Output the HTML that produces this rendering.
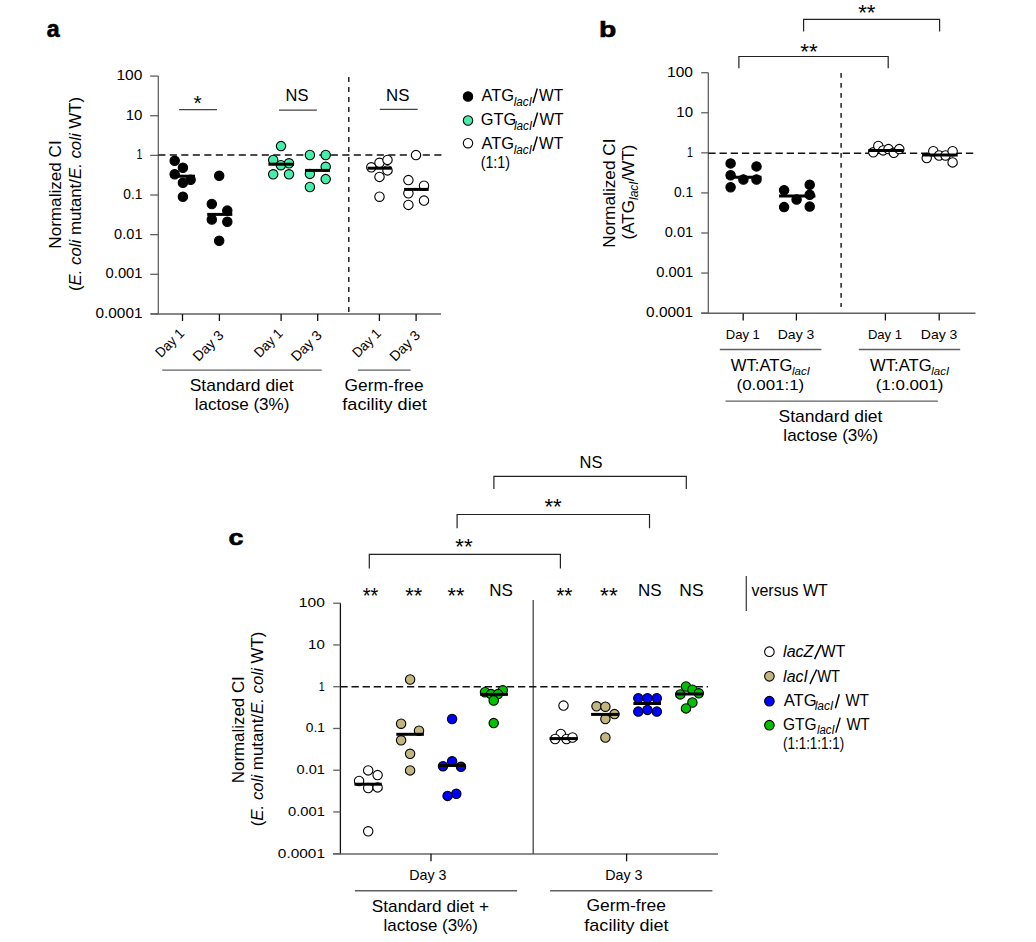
<!DOCTYPE html>
<html><head><meta charset="utf-8"><style>
html,body{margin:0;padding:0;background:#fff;width:1036px;height:942px;overflow:hidden}
svg{display:block;font-family:"Liberation Sans", sans-serif}
text{fill:#000}
</style></head><body>
<svg width="1036" height="942" viewBox="0 0 1036 942">
<rect width="1036" height="942" fill="#fff"/>
<text x="46.81" y="36.7" font-size="23" font-weight="bold" textLength="12.85" lengthAdjust="spacingAndGlyphs" stroke="#000" stroke-width="0.6">a</text>
<line x1="158.3" y1="76.1" x2="158.3" y2="314.54" stroke="#606060" stroke-width="1.3"/>
<line x1="150.2" y1="76.1" x2="158.3" y2="76.1" stroke="#606060" stroke-width="1.3"/>
<text x="116.43" y="80.1" font-size="14" textLength="25.97" lengthAdjust="spacingAndGlyphs">100</text>
<line x1="150.2" y1="115.74" x2="158.3" y2="115.74" stroke="#606060" stroke-width="1.3"/>
<text x="125.67" y="119.74" font-size="14" textLength="16.73" lengthAdjust="spacingAndGlyphs">10</text>
<line x1="150.2" y1="155.38" x2="158.3" y2="155.38" stroke="#606060" stroke-width="1.3"/>
<text x="136.4" y="159.38" font-size="14" textLength="5.92" lengthAdjust="spacingAndGlyphs">1</text>
<line x1="150.2" y1="195.02" x2="158.3" y2="195.02" stroke="#606060" stroke-width="1.3"/>
<text x="123.35" y="199.02" font-size="14" textLength="19.11" lengthAdjust="spacingAndGlyphs">0.1</text>
<line x1="150.2" y1="234.66" x2="158.3" y2="234.66" stroke="#606060" stroke-width="1.3"/>
<text x="114.12" y="238.66" font-size="14" textLength="28.4" lengthAdjust="spacingAndGlyphs">0.01</text>
<line x1="150.2" y1="274.3" x2="158.3" y2="274.3" stroke="#606060" stroke-width="1.3"/>
<text x="105.61" y="278.3" font-size="14" textLength="36.89" lengthAdjust="spacingAndGlyphs">0.001</text>
<line x1="150.2" y1="313.94" x2="158.3" y2="313.94" stroke="#606060" stroke-width="1.3"/>
<text x="95.48" y="317.94" font-size="14" textLength="47.07" lengthAdjust="spacingAndGlyphs">0.0001</text>
<line x1="150.8" y1="313.9" x2="441" y2="313.9" stroke="#606060" stroke-width="1.5"/>
<line x1="182.5" y1="314" x2="182.5" y2="321" stroke="#111" stroke-width="1.3"/>
<line x1="219.4" y1="314" x2="219.4" y2="321" stroke="#111" stroke-width="1.3"/>
<line x1="281.1" y1="314" x2="281.1" y2="321" stroke="#111" stroke-width="1.3"/>
<line x1="317.7" y1="314" x2="317.7" y2="321" stroke="#111" stroke-width="1.3"/>
<line x1="379.4" y1="314" x2="379.4" y2="321" stroke="#111" stroke-width="1.3"/>
<line x1="416.1" y1="314" x2="416.1" y2="321" stroke="#111" stroke-width="1.3"/>
<line x1="158.3" y1="155.1" x2="441.8" y2="155.1" stroke="#111" stroke-width="1.5" stroke-dasharray="7.1 4.4"/>
<line x1="348.8" y1="77.1" x2="348.8" y2="314" stroke="#222" stroke-width="1.5" stroke-dasharray="4.8 5.2"/>
<line x1="179.1" y1="109.6" x2="217" y2="109.6" stroke="#444" stroke-width="1.3"/>
<text x="193.43" y="110.14" font-size="20.57" textLength="8.22" lengthAdjust="spacingAndGlyphs">*</text>
<line x1="279" y1="110.1" x2="316.9" y2="110.1" stroke="#444" stroke-width="1.3"/>
<text x="285.54" y="100.8" font-size="16.4" textLength="22.82" lengthAdjust="spacingAndGlyphs">NS</text>
<line x1="379.8" y1="109.4" x2="417.7" y2="109.4" stroke="#444" stroke-width="1.3"/>
<text x="386.11" y="100.8" font-size="16.4" textLength="23.37" lengthAdjust="spacingAndGlyphs">NS</text>
<circle cx="174.7" cy="160.8" r="4.7" fill="#000" stroke="#000" stroke-width="1.1"/>
<circle cx="182.9" cy="167.7" r="4.7" fill="#000" stroke="#000" stroke-width="1.1"/>
<circle cx="174.7" cy="174.3" r="4.7" fill="#000" stroke="#000" stroke-width="1.1"/>
<circle cx="190.6" cy="179.7" r="4.7" fill="#000" stroke="#000" stroke-width="1.1"/>
<circle cx="182.9" cy="182.8" r="4.7" fill="#000" stroke="#000" stroke-width="1.1"/>
<circle cx="182.9" cy="196.7" r="4.7" fill="#000" stroke="#000" stroke-width="1.1"/>
<circle cx="219.2" cy="175.8" r="4.7" fill="#000" stroke="#000" stroke-width="1.1"/>
<circle cx="211.8" cy="204" r="4.7" fill="#000" stroke="#000" stroke-width="1.1"/>
<circle cx="227.3" cy="210.6" r="4.7" fill="#000" stroke="#000" stroke-width="1.1"/>
<circle cx="211.8" cy="219.5" r="4.7" fill="#000" stroke="#000" stroke-width="1.1"/>
<circle cx="227.3" cy="221.8" r="4.7" fill="#000" stroke="#000" stroke-width="1.1"/>
<circle cx="219.2" cy="240.7" r="4.7" fill="#000" stroke="#000" stroke-width="1.1"/>
<circle cx="281" cy="146.1" r="4.7" fill="#45EEAA" stroke="#000" stroke-width="1.1"/>
<circle cx="273.2" cy="160" r="4.7" fill="#45EEAA" stroke="#000" stroke-width="1.1"/>
<circle cx="280.9" cy="165.2" r="4.7" fill="#45EEAA" stroke="#000" stroke-width="1.1"/>
<circle cx="289" cy="163.3" r="4.7" fill="#45EEAA" stroke="#000" stroke-width="1.1"/>
<circle cx="273.2" cy="174.3" r="4.7" fill="#45EEAA" stroke="#000" stroke-width="1.1"/>
<circle cx="289" cy="174.3" r="4.7" fill="#45EEAA" stroke="#000" stroke-width="1.1"/>
<circle cx="309.9" cy="155" r="4.7" fill="#45EEAA" stroke="#000" stroke-width="1.1"/>
<circle cx="325.7" cy="155" r="4.7" fill="#45EEAA" stroke="#000" stroke-width="1.1"/>
<circle cx="325.7" cy="166.8" r="4.7" fill="#45EEAA" stroke="#000" stroke-width="1.1"/>
<circle cx="309.9" cy="173.9" r="4.7" fill="#45EEAA" stroke="#000" stroke-width="1.1"/>
<circle cx="325.7" cy="179.1" r="4.7" fill="#45EEAA" stroke="#000" stroke-width="1.1"/>
<circle cx="309.9" cy="187" r="4.7" fill="#45EEAA" stroke="#000" stroke-width="1.1"/>
<circle cx="371.3" cy="167.3" r="4.7" fill="#fff" stroke="#000" stroke-width="1.1"/>
<circle cx="379.5" cy="162.8" r="4.7" fill="#fff" stroke="#000" stroke-width="1.1"/>
<circle cx="387.5" cy="159.9" r="4.7" fill="#fff" stroke="#000" stroke-width="1.1"/>
<circle cx="387.5" cy="170.4" r="4.7" fill="#fff" stroke="#000" stroke-width="1.1"/>
<circle cx="379.5" cy="176.9" r="4.7" fill="#fff" stroke="#000" stroke-width="1.1"/>
<circle cx="379.5" cy="196.7" r="4.7" fill="#fff" stroke="#000" stroke-width="1.1"/>
<circle cx="416" cy="155.1" r="4.7" fill="#fff" stroke="#000" stroke-width="1.1"/>
<circle cx="408.4" cy="180.1" r="4.7" fill="#fff" stroke="#000" stroke-width="1.1"/>
<circle cx="424" cy="185.7" r="4.7" fill="#fff" stroke="#000" stroke-width="1.1"/>
<circle cx="408.4" cy="193.3" r="4.7" fill="#fff" stroke="#000" stroke-width="1.1"/>
<circle cx="424" cy="200.6" r="4.7" fill="#fff" stroke="#000" stroke-width="1.1"/>
<circle cx="408.4" cy="204.9" r="4.7" fill="#fff" stroke="#000" stroke-width="1.1"/>
<line x1="170.5" y1="176.2" x2="195" y2="176.2" stroke="#000" stroke-width="3"/>
<line x1="207.2" y1="214.4" x2="232.3" y2="214.4" stroke="#000" stroke-width="3"/>
<line x1="268.4" y1="164.2" x2="293.9" y2="164.2" stroke="#000" stroke-width="3"/>
<line x1="305" y1="170.4" x2="330" y2="170.4" stroke="#000" stroke-width="3"/>
<line x1="367.6" y1="168.2" x2="391.7" y2="168.2" stroke="#000" stroke-width="3"/>
<line x1="404.1" y1="189.4" x2="428.7" y2="189.4" stroke="#000" stroke-width="3"/>
<circle cx="468" cy="96.5" r="4.7" fill="#000" stroke="#000" stroke-width="1.1"/>
<circle cx="468" cy="120.5" r="4.7" fill="#45EEAA" stroke="#000" stroke-width="1.1"/>
<circle cx="468" cy="143.2" r="4.7" fill="#fff" stroke="#000" stroke-width="1.1"/>
<text x="481.56" y="100.8" font-size="16.4" textLength="32.5" lengthAdjust="spacingAndGlyphs">ATG</text>
<text x="513.69" y="105.7" font-size="12" font-style="italic" textLength="18.24" lengthAdjust="spacingAndGlyphs">lacI</text>
<line x1="533" y1="103" x2="537.3" y2="88.55" stroke="#000" stroke-width="1.45"/>
<text x="539.12" y="100.8" font-size="16.4" textLength="23.92" lengthAdjust="spacingAndGlyphs">WT</text>
<text x="480.78" y="124.8" font-size="16.4" textLength="35.53" lengthAdjust="spacingAndGlyphs">GTG</text>
<text x="513.99" y="129.7" font-size="12" font-style="italic" textLength="18.24" lengthAdjust="spacingAndGlyphs">lacI</text>
<line x1="533.3" y1="127" x2="537.6" y2="112.55" stroke="#000" stroke-width="1.45"/>
<text x="539.42" y="124.8" font-size="16.4" textLength="24.12" lengthAdjust="spacingAndGlyphs">WT</text>
<text x="481.56" y="148.8" font-size="16.4" textLength="32.5" lengthAdjust="spacingAndGlyphs">ATG</text>
<text x="513.69" y="153.7" font-size="12" font-style="italic" textLength="18.24" lengthAdjust="spacingAndGlyphs">lacI</text>
<line x1="533" y1="151" x2="537.3" y2="136.55" stroke="#000" stroke-width="1.45"/>
<text x="539.12" y="148.8" font-size="16.4" textLength="23.92" lengthAdjust="spacingAndGlyphs">WT</text>
<text x="480.71" y="167.5" font-size="16.4" textLength="29.3" lengthAdjust="spacingAndGlyphs">(1:1)</text>
<text transform="translate(60.9,248.71) rotate(-90)" font-size="16.7" textLength="108.4" lengthAdjust="spacingAndGlyphs">Normalized CI</text>
<text transform="translate(81,291) rotate(-90)" font-size="17" text-anchor="start" textLength="194" lengthAdjust="spacingAndGlyphs">(<tspan font-style="italic">E. coli</tspan> mutant/<tspan font-style="italic">E. coli</tspan> WT)</text>
<text transform="translate(185,334.3) rotate(-45)" font-size="14" text-anchor="end" textLength="33.88" lengthAdjust="spacingAndGlyphs">Day 1</text>
<text transform="translate(224.4,336.2) rotate(-45)" font-size="14" text-anchor="end" textLength="36.57" lengthAdjust="spacingAndGlyphs">Day 3</text>
<text transform="translate(283.6,334.3) rotate(-45)" font-size="14" text-anchor="end" textLength="33.88" lengthAdjust="spacingAndGlyphs">Day 1</text>
<text transform="translate(322.7,336.2) rotate(-45)" font-size="14" text-anchor="end" textLength="36.57" lengthAdjust="spacingAndGlyphs">Day 3</text>
<text transform="translate(381.9,334.3) rotate(-45)" font-size="14" text-anchor="end" textLength="33.88" lengthAdjust="spacingAndGlyphs">Day 1</text>
<text transform="translate(421.1,336.2) rotate(-45)" font-size="14" text-anchor="end" textLength="36.57" lengthAdjust="spacingAndGlyphs">Day 3</text>
<line x1="162.2" y1="370.1" x2="321.7" y2="370.1" stroke="#606060" stroke-width="1.4"/>
<line x1="357.9" y1="370.1" x2="410.6" y2="370.1" stroke="#606060" stroke-width="1.4"/>
<text x="189.71" y="391.3" font-size="16.4" textLength="103.84" lengthAdjust="spacingAndGlyphs">Standard diet</text>
<text x="194.65" y="409.8" font-size="16.4" textLength="94.82" lengthAdjust="spacingAndGlyphs">lactose (3%)</text>
<text x="344.63" y="391.3" font-size="16.4" textLength="78.92" lengthAdjust="spacingAndGlyphs">Germ-free</text>
<text x="342.33" y="409.8" font-size="16.4" textLength="84.43" lengthAdjust="spacingAndGlyphs">facility diet</text>
<text x="598.96" y="36.7" font-size="22.6" font-weight="bold" textLength="17.3" lengthAdjust="spacingAndGlyphs" stroke="#000" stroke-width="0.6">b</text>
<line x1="708.3" y1="72.7" x2="708.3" y2="313.72" stroke="#606060" stroke-width="1.3"/>
<line x1="701.2" y1="72.7" x2="708.3" y2="72.7" stroke="#606060" stroke-width="1.3"/>
<text x="667.03" y="76.9" font-size="14" textLength="25.97" lengthAdjust="spacingAndGlyphs">100</text>
<line x1="701.2" y1="112.77" x2="708.3" y2="112.77" stroke="#606060" stroke-width="1.3"/>
<text x="676.27" y="116.97" font-size="14" textLength="16.73" lengthAdjust="spacingAndGlyphs">10</text>
<line x1="701.2" y1="152.84" x2="708.3" y2="152.84" stroke="#606060" stroke-width="1.3"/>
<text x="687" y="157.04" font-size="14" textLength="5.92" lengthAdjust="spacingAndGlyphs">1</text>
<line x1="701.2" y1="192.91" x2="708.3" y2="192.91" stroke="#606060" stroke-width="1.3"/>
<text x="673.95" y="197.11" font-size="14" textLength="19.11" lengthAdjust="spacingAndGlyphs">0.1</text>
<line x1="701.2" y1="232.98" x2="708.3" y2="232.98" stroke="#606060" stroke-width="1.3"/>
<text x="664.72" y="237.18" font-size="14" textLength="28.4" lengthAdjust="spacingAndGlyphs">0.01</text>
<line x1="701.2" y1="273.05" x2="708.3" y2="273.05" stroke="#606060" stroke-width="1.3"/>
<text x="656.21" y="277.25" font-size="14" textLength="36.89" lengthAdjust="spacingAndGlyphs">0.001</text>
<line x1="701.2" y1="313.12" x2="708.3" y2="313.12" stroke="#606060" stroke-width="1.3"/>
<text x="646.08" y="317.32" font-size="14" textLength="47.07" lengthAdjust="spacingAndGlyphs">0.0001</text>
<line x1="701.2" y1="313.3" x2="975.5" y2="313.3" stroke="#606060" stroke-width="1.5"/>
<line x1="743.2" y1="313.5" x2="743.2" y2="320.5" stroke="#111" stroke-width="1.3"/>
<line x1="796.4" y1="313.5" x2="796.4" y2="320.5" stroke="#111" stroke-width="1.3"/>
<line x1="885.4" y1="313.5" x2="885.4" y2="320.5" stroke="#111" stroke-width="1.3"/>
<line x1="939.2" y1="313.5" x2="939.2" y2="320.5" stroke="#111" stroke-width="1.3"/>
<line x1="708.3" y1="153.2" x2="975" y2="153.2" stroke="#111" stroke-width="1.5" stroke-dasharray="7.3 3.9"/>
<line x1="841.1" y1="73" x2="841.1" y2="307" stroke="#222" stroke-width="1.5" stroke-dasharray="4.8 5.2"/>
<polyline points="803.6,31.4 803.6,19.3 939.6,19.3 939.6,31.4" fill="none" stroke="#222" stroke-width="1.2"/>
<text x="858.21" y="20.23" font-size="21.43" textLength="17.34" lengthAdjust="spacingAndGlyphs">**</text>
<polyline points="738.9,68.3 738.9,56.5 888.2,56.5 888.2,68.3" fill="none" stroke="#222" stroke-width="1.2"/>
<text x="800.31" y="59.43" font-size="21.43" textLength="17.34" lengthAdjust="spacingAndGlyphs">**</text>
<circle cx="730.6" cy="163.4" r="4.7" fill="#000" stroke="#000" stroke-width="1.1"/>
<circle cx="756.5" cy="166.4" r="4.7" fill="#000" stroke="#000" stroke-width="1.1"/>
<circle cx="730.6" cy="175.2" r="4.7" fill="#000" stroke="#000" stroke-width="1.1"/>
<circle cx="743.4" cy="179.5" r="4.7" fill="#000" stroke="#000" stroke-width="1.1"/>
<circle cx="756.5" cy="179.5" r="4.7" fill="#000" stroke="#000" stroke-width="1.1"/>
<circle cx="730.6" cy="187.3" r="4.7" fill="#000" stroke="#000" stroke-width="1.1"/>
<circle cx="784.1" cy="190.3" r="4.7" fill="#000" stroke="#000" stroke-width="1.1"/>
<circle cx="809.7" cy="184.7" r="4.7" fill="#000" stroke="#000" stroke-width="1.1"/>
<circle cx="796.6" cy="199.5" r="4.7" fill="#000" stroke="#000" stroke-width="1.1"/>
<circle cx="809.7" cy="194.8" r="4.7" fill="#000" stroke="#000" stroke-width="1.1"/>
<circle cx="784.1" cy="207.1" r="4.7" fill="#000" stroke="#000" stroke-width="1.1"/>
<circle cx="809.7" cy="206.6" r="4.7" fill="#000" stroke="#000" stroke-width="1.1"/>
<circle cx="873.3" cy="152.3" r="4.7" fill="#fff" stroke="#000" stroke-width="1.1"/>
<circle cx="878.3" cy="145.9" r="4.7" fill="#fff" stroke="#000" stroke-width="1.1"/>
<circle cx="883.1" cy="150.4" r="4.7" fill="#fff" stroke="#000" stroke-width="1.1"/>
<circle cx="888.5" cy="149.1" r="4.7" fill="#fff" stroke="#000" stroke-width="1.1"/>
<circle cx="893.8" cy="152.8" r="4.7" fill="#fff" stroke="#000" stroke-width="1.1"/>
<circle cx="899.3" cy="149.1" r="4.7" fill="#fff" stroke="#000" stroke-width="1.1"/>
<circle cx="926.7" cy="158.1" r="4.7" fill="#fff" stroke="#000" stroke-width="1.1"/>
<circle cx="933.3" cy="151.2" r="4.7" fill="#fff" stroke="#000" stroke-width="1.1"/>
<circle cx="939.1" cy="155.5" r="4.7" fill="#fff" stroke="#000" stroke-width="1.1"/>
<circle cx="945.5" cy="155.5" r="4.7" fill="#fff" stroke="#000" stroke-width="1.1"/>
<circle cx="952.6" cy="151.2" r="4.7" fill="#fff" stroke="#000" stroke-width="1.1"/>
<circle cx="952.6" cy="162.4" r="4.7" fill="#fff" stroke="#000" stroke-width="1.1"/>
<line x1="726.3" y1="177.2" x2="761.5" y2="177.2" stroke="#000" stroke-width="3"/>
<line x1="779" y1="196" x2="815.4" y2="196" stroke="#000" stroke-width="3"/>
<line x1="868.3" y1="150.5" x2="903.5" y2="150.5" stroke="#000" stroke-width="3"/>
<line x1="922.1" y1="155" x2="957.7" y2="155" stroke="#000" stroke-width="3"/>
<text transform="translate(614.8,247.72) rotate(-90)" font-size="16.7" textLength="109.32" lengthAdjust="spacingAndGlyphs">Normalized CI</text>
<text transform="translate(634,239.4) rotate(-90)" font-size="17">(ATG<tspan font-size="12" font-style="italic" dy="4">lacI</tspan><tspan dy="-4">/WT)</tspan></text>
<text x="725.72" y="338.8" font-size="13.1" textLength="34.13" lengthAdjust="spacingAndGlyphs">Day 1</text>
<text x="777.74" y="338.8" font-size="13.1" textLength="36.58" lengthAdjust="spacingAndGlyphs">Day 3</text>
<text x="867.92" y="338.8" font-size="13.1" textLength="34.13" lengthAdjust="spacingAndGlyphs">Day 1</text>
<text x="920.84" y="338.8" font-size="13.1" textLength="36.58" lengthAdjust="spacingAndGlyphs">Day 3</text>
<line x1="719.8" y1="349.5" x2="821.4" y2="349.5" stroke="#606060" stroke-width="1.4"/>
<line x1="858.8" y1="349.5" x2="960.2" y2="349.5" stroke="#606060" stroke-width="1.4"/>
<text x="730.82" y="370.6" font-size="16.3" textLength="61.54" lengthAdjust="spacingAndGlyphs">WT:ATG</text>
<text x="792" y="375.4" font-size="11.5" font-style="italic" textLength="17.93" lengthAdjust="spacingAndGlyphs">lacI</text>
<text x="870.12" y="370.6" font-size="16.3" textLength="61.54" lengthAdjust="spacingAndGlyphs">WT:ATG</text>
<text x="931.3" y="375.4" font-size="11.5" font-style="italic" textLength="17.93" lengthAdjust="spacingAndGlyphs">lacI</text>
<text x="736.54" y="389.8" font-size="14.4" textLength="67.72" lengthAdjust="spacingAndGlyphs">(0.001:1)</text>
<text x="875.74" y="389.8" font-size="14.4" textLength="67.72" lengthAdjust="spacingAndGlyphs">(1:0.001)</text>
<line x1="725.6" y1="401.1" x2="937.8" y2="401.1" stroke="#606060" stroke-width="1.4"/>
<text x="778.51" y="421.6" font-size="16.4" textLength="103.84" lengthAdjust="spacingAndGlyphs">Standard diet</text>
<text x="783.35" y="441.2" font-size="16.4" textLength="94.82" lengthAdjust="spacingAndGlyphs">lactose (3%)</text>
<text x="228.43" y="544.9" font-size="22.5" font-weight="bold" textLength="14.95" lengthAdjust="spacingAndGlyphs" stroke="#000" stroke-width="0.6">c</text>
<line x1="340.4" y1="603.2" x2="340.4" y2="854.3" stroke="#111" stroke-width="1.3"/>
<line x1="333.2" y1="603.2" x2="340.4" y2="603.2" stroke="#606060" stroke-width="1.3"/>
<text x="298.83" y="607" font-size="13.7" textLength="25.97" lengthAdjust="spacingAndGlyphs">100</text>
<line x1="333.2" y1="644.95" x2="340.4" y2="644.95" stroke="#606060" stroke-width="1.3"/>
<text x="308.07" y="648.75" font-size="13.7" textLength="16.73" lengthAdjust="spacingAndGlyphs">10</text>
<line x1="333.2" y1="686.7" x2="340.4" y2="686.7" stroke="#606060" stroke-width="1.3"/>
<text x="318.8" y="690.5" font-size="13.7" textLength="5.92" lengthAdjust="spacingAndGlyphs">1</text>
<line x1="333.2" y1="728.45" x2="340.4" y2="728.45" stroke="#606060" stroke-width="1.3"/>
<text x="305.75" y="732.25" font-size="13.7" textLength="19.11" lengthAdjust="spacingAndGlyphs">0.1</text>
<line x1="333.2" y1="770.2" x2="340.4" y2="770.2" stroke="#606060" stroke-width="1.3"/>
<text x="296.52" y="774" font-size="13.7" textLength="28.4" lengthAdjust="spacingAndGlyphs">0.01</text>
<line x1="333.2" y1="811.95" x2="340.4" y2="811.95" stroke="#606060" stroke-width="1.3"/>
<text x="288.01" y="815.75" font-size="13.7" textLength="36.89" lengthAdjust="spacingAndGlyphs">0.001</text>
<line x1="333.2" y1="853.7" x2="340.4" y2="853.7" stroke="#606060" stroke-width="1.3"/>
<text x="277.88" y="857.5" font-size="13.7" textLength="47.07" lengthAdjust="spacingAndGlyphs">0.0001</text>
<line x1="333" y1="853.9" x2="718" y2="853.9" stroke="#666" stroke-width="1.5"/>
<line x1="431" y1="853.8" x2="431" y2="861.3" stroke="#111" stroke-width="1.3"/>
<line x1="626.6" y1="853.8" x2="626.6" y2="861.3" stroke="#111" stroke-width="1.3"/>
<line x1="533.2" y1="600" x2="533.2" y2="853.7" stroke="#444" stroke-width="1.3"/>
<line x1="340.4" y1="686.8" x2="708" y2="686.8" stroke="#111" stroke-width="1.5" stroke-dasharray="7.3 3.8"/>
<line x1="746.3" y1="575.9" x2="746.3" y2="611" stroke="#444" stroke-width="1.3"/>
<text x="751.52" y="596.1" font-size="16.8" textLength="76.25" lengthAdjust="spacingAndGlyphs">versus WT</text>
<polyline points="369.3,568.5 369.3,554.4 560.4,554.4 560.4,568.5" fill="none" stroke="#222" stroke-width="1.2"/>
<text x="455.31" y="553.93" font-size="21.71" textLength="17.34" lengthAdjust="spacingAndGlyphs">**</text>
<polyline points="457.1,528.3 457.1,514.5 649.5,514.5 649.5,528.3" fill="none" stroke="#222" stroke-width="1.2"/>
<text x="544.41" y="514.23" font-size="21.43" textLength="17.34" lengthAdjust="spacingAndGlyphs">**</text>
<polyline points="493.9,488.9 493.9,476.4 686.3,476.4 686.3,488.9" fill="none" stroke="#222" stroke-width="1.2"/>
<text x="579.64" y="467.6" font-size="16.4" textLength="22.93" lengthAdjust="spacingAndGlyphs">NS</text>
<text x="362.65" y="602.51" font-size="22.86" textLength="15.67" lengthAdjust="spacingAndGlyphs">**</text>
<text x="405.32" y="602.51" font-size="22.86" textLength="17.03" lengthAdjust="spacingAndGlyphs">**</text>
<text x="447.52" y="602.51" font-size="22.86" textLength="16.82" lengthAdjust="spacingAndGlyphs">**</text>
<text x="556.23" y="602.51" font-size="22.86" textLength="16.3" lengthAdjust="spacingAndGlyphs">**</text>
<text x="600.11" y="602.51" font-size="22.86" textLength="17.55" lengthAdjust="spacingAndGlyphs">**</text>
<text x="489.2" y="595.6" font-size="16.4" textLength="23.59" lengthAdjust="spacingAndGlyphs">NS</text>
<text x="638" y="595.6" font-size="16.4" textLength="23.59" lengthAdjust="spacingAndGlyphs">NS</text>
<text x="679.37" y="595.6" font-size="16.4" textLength="24.15" lengthAdjust="spacingAndGlyphs">NS</text>
<circle cx="368.2" cy="770.4" r="4.7" fill="#fff" stroke="#000" stroke-width="1.1"/>
<circle cx="377.6" cy="775.1" r="4.7" fill="#fff" stroke="#000" stroke-width="1.1"/>
<circle cx="359.1" cy="781" r="4.7" fill="#fff" stroke="#000" stroke-width="1.1"/>
<circle cx="368.2" cy="788" r="4.7" fill="#fff" stroke="#000" stroke-width="1.1"/>
<circle cx="377.6" cy="787.4" r="4.7" fill="#fff" stroke="#000" stroke-width="1.1"/>
<circle cx="368.2" cy="831.3" r="4.7" fill="#fff" stroke="#000" stroke-width="1.1"/>
<circle cx="563.5" cy="705.6" r="4.7" fill="#fff" stroke="#000" stroke-width="1.1"/>
<circle cx="560.8" cy="733.9" r="4.7" fill="#fff" stroke="#000" stroke-width="1.1"/>
<circle cx="555.1" cy="739" r="4.7" fill="#fff" stroke="#000" stroke-width="1.1"/>
<circle cx="566.5" cy="739" r="4.7" fill="#fff" stroke="#000" stroke-width="1.1"/>
<circle cx="572.5" cy="737.5" r="4.7" fill="#fff" stroke="#000" stroke-width="1.1"/>
<circle cx="410.1" cy="679.5" r="4.7" fill="#C2B57F" stroke="#000" stroke-width="1.1"/>
<circle cx="401.1" cy="723.7" r="4.7" fill="#C2B57F" stroke="#000" stroke-width="1.1"/>
<circle cx="419" cy="730.7" r="4.7" fill="#C2B57F" stroke="#000" stroke-width="1.1"/>
<circle cx="401.1" cy="740.3" r="4.7" fill="#C2B57F" stroke="#000" stroke-width="1.1"/>
<circle cx="410.1" cy="753.8" r="4.7" fill="#C2B57F" stroke="#000" stroke-width="1.1"/>
<circle cx="410.1" cy="770.4" r="4.7" fill="#C2B57F" stroke="#000" stroke-width="1.1"/>
<circle cx="596.5" cy="706.3" r="4.7" fill="#C2B57F" stroke="#000" stroke-width="1.1"/>
<circle cx="605.4" cy="706.7" r="4.7" fill="#C2B57F" stroke="#000" stroke-width="1.1"/>
<circle cx="614.5" cy="714.1" r="4.7" fill="#C2B57F" stroke="#000" stroke-width="1.1"/>
<circle cx="605.4" cy="719" r="4.7" fill="#C2B57F" stroke="#000" stroke-width="1.1"/>
<circle cx="605.4" cy="737.5" r="4.7" fill="#C2B57F" stroke="#000" stroke-width="1.1"/>
<circle cx="452.1" cy="719" r="4.7" fill="#0000FF" stroke="#000" stroke-width="1.1"/>
<circle cx="452.1" cy="761.3" r="4.7" fill="#0000FF" stroke="#000" stroke-width="1.1"/>
<circle cx="443" cy="766.2" r="4.7" fill="#0000FF" stroke="#000" stroke-width="1.1"/>
<circle cx="461" cy="766.8" r="4.7" fill="#0000FF" stroke="#000" stroke-width="1.1"/>
<circle cx="456.3" cy="793.8" r="4.7" fill="#0000FF" stroke="#000" stroke-width="1.1"/>
<circle cx="447.6" cy="795.9" r="4.7" fill="#0000FF" stroke="#000" stroke-width="1.1"/>
<circle cx="638.3" cy="698.2" r="4.7" fill="#0000FF" stroke="#000" stroke-width="1.1"/>
<circle cx="647.4" cy="698.2" r="4.7" fill="#0000FF" stroke="#000" stroke-width="1.1"/>
<circle cx="656.8" cy="698.2" r="4.7" fill="#0000FF" stroke="#000" stroke-width="1.1"/>
<circle cx="638.3" cy="711.6" r="4.7" fill="#0000FF" stroke="#000" stroke-width="1.1"/>
<circle cx="647.4" cy="709.9" r="4.7" fill="#0000FF" stroke="#000" stroke-width="1.1"/>
<circle cx="656.8" cy="711.6" r="4.7" fill="#0000FF" stroke="#000" stroke-width="1.1"/>
<circle cx="485" cy="692.2" r="4.7" fill="#00C000" stroke="#000" stroke-width="1.1"/>
<circle cx="502.8" cy="690.3" r="4.7" fill="#00C000" stroke="#000" stroke-width="1.1"/>
<circle cx="491" cy="694.1" r="4.7" fill="#00C000" stroke="#000" stroke-width="1.1"/>
<circle cx="498" cy="694.1" r="4.7" fill="#00C000" stroke="#000" stroke-width="1.1"/>
<circle cx="493.7" cy="700.5" r="4.7" fill="#00C000" stroke="#000" stroke-width="1.1"/>
<circle cx="493.7" cy="723.1" r="4.7" fill="#00C000" stroke="#000" stroke-width="1.1"/>
<circle cx="686" cy="686.5" r="4.7" fill="#00C000" stroke="#000" stroke-width="1.1"/>
<circle cx="692.4" cy="689.7" r="4.7" fill="#00C000" stroke="#000" stroke-width="1.1"/>
<circle cx="680.3" cy="694.4" r="4.7" fill="#00C000" stroke="#000" stroke-width="1.1"/>
<circle cx="698.8" cy="693.3" r="4.7" fill="#00C000" stroke="#000" stroke-width="1.1"/>
<circle cx="692.4" cy="702.5" r="4.7" fill="#00C000" stroke="#000" stroke-width="1.1"/>
<circle cx="686" cy="708.4" r="4.7" fill="#00C000" stroke="#000" stroke-width="1.1"/>
<line x1="354.4" y1="784.2" x2="381.8" y2="784.2" stroke="#000" stroke-width="3"/>
<line x1="396.3" y1="734.3" x2="423.9" y2="734.3" stroke="#000" stroke-width="3"/>
<line x1="438.7" y1="765.5" x2="465.3" y2="765.5" stroke="#000" stroke-width="3"/>
<line x1="480.2" y1="694.4" x2="507.9" y2="694.4" stroke="#000" stroke-width="3"/>
<line x1="549.5" y1="738.6" x2="577.8" y2="738.6" stroke="#000" stroke-width="3"/>
<line x1="591.1" y1="714.4" x2="619.2" y2="714.4" stroke="#000" stroke-width="3"/>
<line x1="633.4" y1="703.5" x2="661" y2="703.5" stroke="#000" stroke-width="3"/>
<line x1="675.4" y1="694" x2="703" y2="694" stroke="#000" stroke-width="3"/>
<circle cx="769.4" cy="651.7" r="4.8" fill="#fff" stroke="#000" stroke-width="1.1"/>
<circle cx="769.4" cy="676.3" r="4.8" fill="#C2B57F" stroke="#000" stroke-width="1.1"/>
<circle cx="769.4" cy="701.2" r="4.8" fill="#0000FF" stroke="#000" stroke-width="1.1"/>
<circle cx="769.4" cy="725.2" r="4.8" fill="#00C000" stroke="#000" stroke-width="1.1"/>
<text x="783.12" y="656.6" font-size="16.8" font-style="italic" textLength="30.27" lengthAdjust="spacingAndGlyphs">lacZ</text>
<line x1="814.6" y1="659.1" x2="821.1" y2="644.9" stroke="#000" stroke-width="1.45"/>
<text x="821.12" y="656.6" font-size="16.4" textLength="24.12" lengthAdjust="spacingAndGlyphs">WT</text>
<text x="783.12" y="681.6" font-size="16.8" font-style="italic" textLength="24.76" lengthAdjust="spacingAndGlyphs">lacI</text>
<line x1="809.9" y1="684.1" x2="816.7" y2="669.5" stroke="#000" stroke-width="1.45"/>
<text x="817.23" y="681.6" font-size="16.4" textLength="22.9" lengthAdjust="spacingAndGlyphs">WT</text>
<text x="783.66" y="706.1" font-size="17" textLength="32.91" lengthAdjust="spacingAndGlyphs">ATG</text>
<text x="814.69" y="710.4" font-size="12" font-style="italic" textLength="18.64" lengthAdjust="spacingAndGlyphs">lacI</text>
<line x1="835.4" y1="708.3" x2="839.3" y2="694.2" stroke="#000" stroke-width="1.45"/>
<text x="845.53" y="706.1" font-size="16.6" textLength="23.31" lengthAdjust="spacingAndGlyphs">WT</text>
<text x="782.93" y="729.6" font-size="17" textLength="33.56" lengthAdjust="spacingAndGlyphs">GTG</text>
<text x="817" y="734.2" font-size="12" font-style="italic" textLength="17.73" lengthAdjust="spacingAndGlyphs">lacI</text>
<line x1="835.8" y1="732.6" x2="840.2" y2="717.6" stroke="#000" stroke-width="1.45"/>
<text x="846.43" y="729.6" font-size="16.6" textLength="23.31" lengthAdjust="spacingAndGlyphs">WT</text>
<text x="783.06" y="749" font-size="16.4" textLength="61.09" lengthAdjust="spacingAndGlyphs">(1:1:1:1:1)</text>
<text transform="translate(243.8,783.2) rotate(-90)" font-size="17" textLength="107" lengthAdjust="spacingAndGlyphs">Normalized CI</text>
<text transform="translate(263,826.3) rotate(-90)" font-size="17" textLength="194.7" lengthAdjust="spacingAndGlyphs">(<tspan font-style="italic">E. coli</tspan> mutant/<tspan font-style="italic">E. coli</tspan> WT)</text>
<text x="409.32" y="880.4" font-size="14.1" textLength="37.21" lengthAdjust="spacingAndGlyphs">Day 3</text>
<text x="605.22" y="879.7" font-size="14.1" textLength="37.21" lengthAdjust="spacingAndGlyphs">Day 3</text>
<line x1="354.9" y1="890.8" x2="517.1" y2="890.8" stroke="#606060" stroke-width="1.4"/>
<line x1="550.1" y1="890.7" x2="712.4" y2="890.7" stroke="#606060" stroke-width="1.4"/>
<text x="371.83" y="911.7" font-size="16.4" textLength="117.1" lengthAdjust="spacingAndGlyphs">Standard diet +</text>
<text x="383.55" y="930.8" font-size="16.4" textLength="94.31" lengthAdjust="spacingAndGlyphs">lactose (3%)</text>
<text x="586.43" y="911.4" font-size="16.4" textLength="79.43" lengthAdjust="spacingAndGlyphs">Germ-free</text>
<text x="584.33" y="930.7" font-size="16.4" textLength="84.23" lengthAdjust="spacingAndGlyphs">facility diet</text>
</svg></body></html>
